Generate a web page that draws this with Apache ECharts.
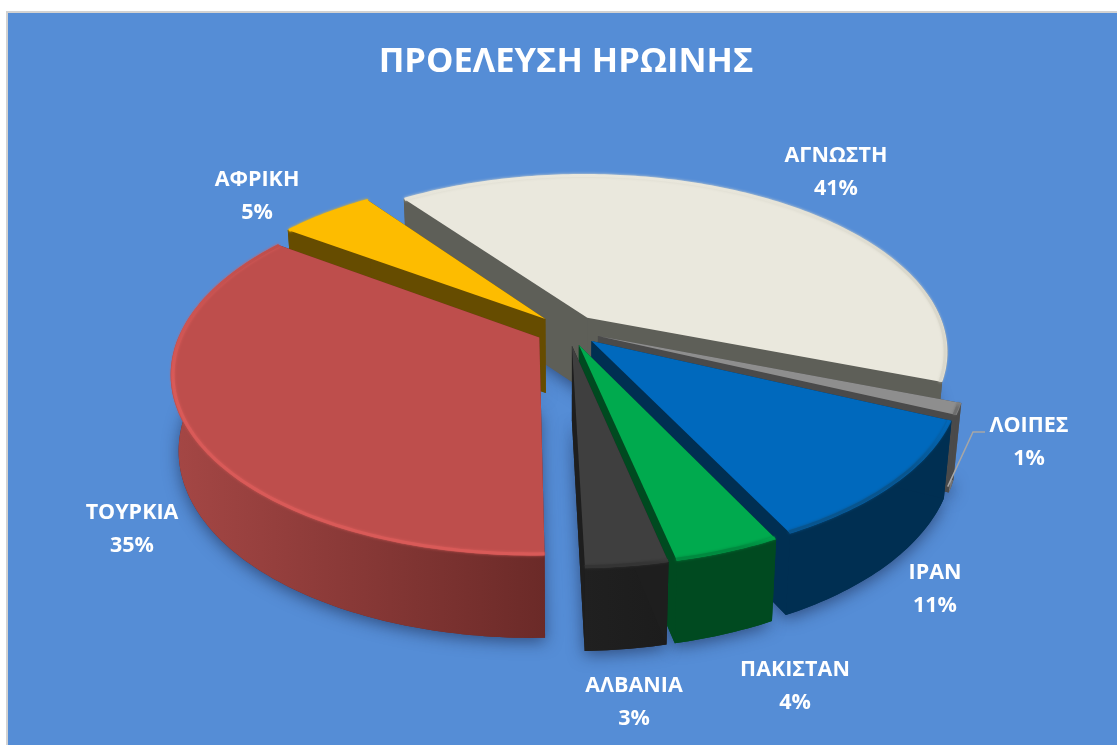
<!DOCTYPE html>
<html>
<head>
<meta charset="utf-8">
<style>html,body{margin:0;padding:0;background:#fff}#c{width:1117px;height:745px}</style>
<script src="https://cdn.jsdelivr.net/npm/echarts@6/dist/echarts.min.js"></script>
</head>
<body>
<div id="c"></div>
<script>
const titleText = 'ΠΡΟΕΛΕΥΣΗ ΗΡΩΙΝΗΣ';
const categories = ['ΑΓΝΩΣΤΗ', 'ΛΟΙΠΕΣ', 'ΙΡΑΝ', 'ΠΑΚΙΣΤΑΝ', 'ΑΛΒΑΝΙΑ', 'ΤΟΥΡΚΙΑ', 'ΑΦΡΙΚΗ'];
const values = [40.8, 1, 10.9, 3.9, 3, 35.3, 5.1];

const topColors  = ['#EAE8DD', '#8E8E8E', '#0069BD', '#00AA4E', '#3F3F3F', '#BE4E4C', '#FDBC00'];
const cutColors  = ['#5E5F58', '#4A4A4A', '#002F52', '#004A20', '#1E1E1E', '#6B2A28', '#664C00'];
const wallLeft   = ['#5E5F58', '#7C7C7C', '#002F52', '#004A20', '#202020', '#A54745', '#664C00'];
const wallRight  = ['#5E5F58', '#555555', '#002F52', '#004A20', '#1C1C1C', '#6B2A28', '#664C00'];
const rimColors  = ['#DAD8CC', '#6E6E6E', '#08558F', '#008A3F', '#343434', '#D95A58', '#FDBC00'];
const labelCenters = [[836, 172], [1029, 442], [935, 589], [795, 686], [634, 702], [132, 529], [257, 196]];

const startDeg = 323.9, explode = 0.09;
const cx = 568, cy = 330, A = 358, B = 174, persp = 0.188, drop = 74, dropFront = 8, shrink = 0.98;
const total = values.reduce((a, b) => a + b, 0);

function project(X, Y) {
  const k = 1 - persp * Y;
  return [cx + A * X / k, cy + B * Y / k];
}
function lower(p, Y) {
  return [cx + (p[0] - cx) * shrink, p[1] + drop + dropFront * Math.max(0, Y)];
}
function sliceGeom(i, value) {
  let before = 0;
  for (let j = 0; j < i; j++) before += values[j];
  const a0 = startDeg + before / total * 360;
  const a1 = a0 + value / total * 360;
  const mid = (a0 + a1) / 2 * Math.PI / 180;
  const ox = Math.sin(mid) * explode, oy = -Math.cos(mid) * explode;
  const arc = (r) => {
    const pts = [], yy = [];
    const n = Math.max(2, Math.ceil(a1 - a0));
    for (let s = 0; s <= n; s++) {
      const t = (a0 + (a1 - a0) * s / n) * Math.PI / 180;
      const Y = oy - Math.cos(t) * r;
      pts.push(project(ox + Math.sin(t) * r, Y));
      yy.push(Y);
    }
    return { pts, yy };
  };
  return { ox, oy, arc };
}
const hGrad = (l, r) => new echarts.graphic.LinearGradient(0, 0, 1, 0, [{ offset: 0, color: l }, { offset: 1, color: r }]);
const vGrad = (t, b) => new echarts.graphic.LinearGradient(0, 0, 0, 1, [{ offset: 0, color: t }, { offset: 0.45, color: b }, { offset: 1, color: b }]);

function renderItem(params, api) {
  const i = params.dataIndex, v = api.value(0);
  const g = sliceGeom(i, v);
  const order = values.map((_, k) => [sliceGeom(k, values[k]).oy, k]).sort((a, b) => a[0] - b[0]).map(d => d[1]);
  const base = 10 + order.indexOf(i) * 10;
  const apex = project(g.ox, g.oy), apexB = lower(apex, g.oy);
  const outer = g.arc(1);
  const outerB = outer.pts.map((p, k) => lower(p, outer.yy[k]));
  const first = outer.pts[0], last = outer.pts[outer.pts.length - 1];
  const firstB = outerB[0], lastB = outerB[outerB.length - 1];
  const poly = (points, style, z2) => ({ type: 'polygon', shape: { points }, style, z2, silent: true });
  const wallPts = outer.pts.concat(outerB.slice().reverse());
  const children = [
    poly([apexB].concat(outerB), { fill: cutColors[i], shadowBlur: 16, shadowColor: 'rgba(20,30,60,0.55)', shadowOffsetY: 4 }, 1),
    poly(wallPts, { fill: hGrad(wallLeft[i], wallRight[i]) }, base),
    poly([apex, first, firstB, apexB], { fill: cutColors[i] }, base + 1),
    poly([apex, last, lastB, apexB], { fill: cutColors[i] }, base + 1),
    poly([apex].concat(outer.pts), { fill: topColors[i] }, base + 2),
    {
      type: 'polyline', shape: { points: g.arc(0.994).pts }, z2: base + 3, silent: true,
      style: { stroke: vGrad(topColors[i], rimColors[i]), lineWidth: 3, fill: null, shadowBlur: 3, shadowColor: rimColors[i] }
    },
    {
      type: 'text', z2: 200, silent: true,
      style: {
        x: labelCenters[i][0], y: labelCenters[i][1],
        text: categories[i] + '\n' + Math.round(v) + '%',
        fill: '#fff', font: 'bold 21.5px "Open Sans"', align: 'center', verticalAlign: 'middle', lineHeight: 33
      }
    }
  ];
  if (categories[i] === 'ΛΟΙΠΕΣ') {
    const p = lastB;
    children.push({
      type: 'polyline', z2: 199, silent: true,
      shape: { points: [[p[0] - 1, p[1] - 6], [973, 432], [985, 432]] },
      style: { stroke: '#A6A6A6', lineWidth: 1.5, fill: null }
    });
  }
  return { type: 'group', children };
}

const chart = echarts.init(document.getElementById('c'), null, { renderer: 'canvas' });
chart.setOption({
  animation: false,
  backgroundColor: '#ffffff',
  title: {
    text: titleText, left: 561, top: 40, textAlign: 'center',
    textStyle: { color: '#fff', fontFamily: 'Open Sans', fontWeight: 'bold', fontSize: 34.5 }
  },
  graphic: [{
    type: 'rect', z: -10, silent: true,
    shape: { x: 7, y: 12, width: 1120, height: 745 },
    style: { fill: '#558DD6', stroke: '#D2D2D2', lineWidth: 2 }
  }],
  series: [{
    type: 'custom', coordinateSystem: 'none', renderItem,
    data: values.map((v, i) => ({ name: categories[i], value: [v] })),
    silent: true, clip: false
  }]
});
</script>
</body>
</html>
